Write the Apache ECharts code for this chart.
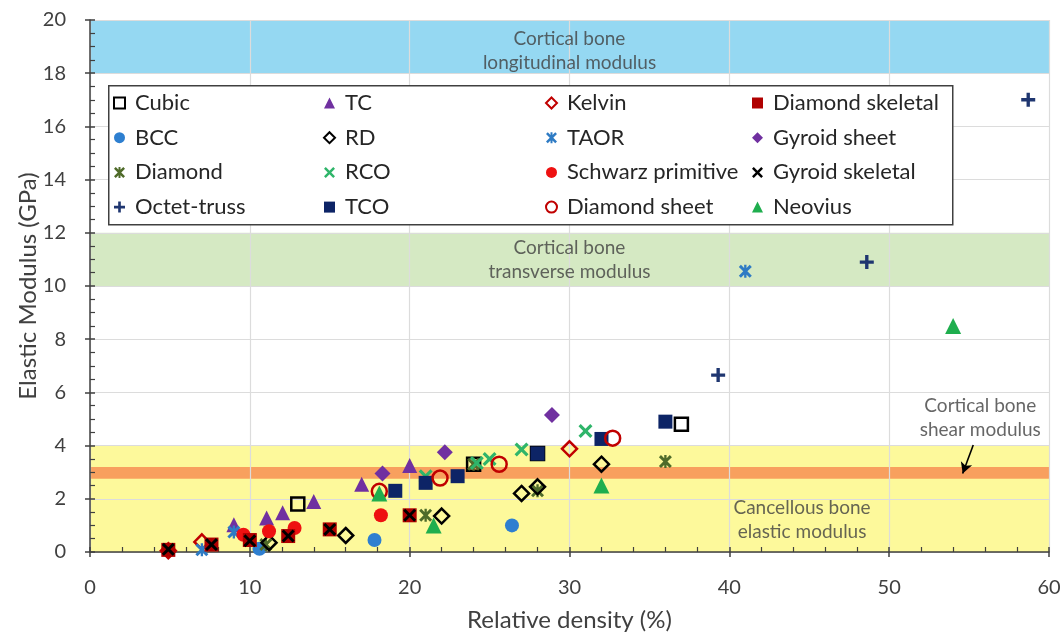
<!DOCTYPE html>
<html><head><meta charset="utf-8">
<script src="https://cdn.jsdelivr.net/npm/echarts@6/dist/echarts.min.js"></script>
<style>html,body{margin:0;padding:0;background:#fff}#c{width:1064px;height:634px}</style>
</head><body><div id="c"></div>
<script>
// ---- data (relative density %, elastic modulus GPa) ----
const cubic    = [[13,1.8],[24,3.3],[28,3.7],[37,4.8]];
const bcc      = [[10.6,0.12],[17.8,0.45],[26.4,1.0]];
const diamond  = [[11,0.28],[21,1.38],[24,3.3],[28,2.3],[36,3.4]];
const octet    = [[39.3,6.65],[48.6,10.9],[58.7,17.0]];
const tc       = [[9,1.02],[11.05,1.28],[12.05,1.48],[14,1.9],[17,2.55],[20,3.25]];
const rd       = [[11.2,0.35],[16,0.62],[22,1.35],[27,2.2],[28,2.45],[32,3.3]];
const rco      = [[21,2.85],[24.2,3.35],[25,3.5],[27,3.85],[31,4.55]];
const tco      = [[19.1,2.3],[21,2.6],[23,2.85],[28,3.7],[32,4.25],[36,4.9]];
const kelvin   = [[4.9,0.05],[7,0.38],[30,3.88]];
const taor     = [[7,0.08],[9,0.75],[41,10.55]];
const schwarz  = [[9.6,0.65],[11.2,0.78],[12.8,0.9],[18.2,1.38]];
const dsheet   = [[18.1,2.28],[21.9,2.78],[25.6,3.3],[32.7,4.28]];
const dskel    = [[4.9,0.08],[7.6,0.28],[10,0.45],[12.4,0.6],[15,0.85],[20,1.38]];
const gsheet   = [[18.3,2.95],[22.2,3.75],[28.9,5.15]];
const gskel    = [[4.9,0.1],[7.6,0.28],[10,0.42],[12.4,0.6],[15,0.85],[20,1.38]];
const neovius  = [[18.1,2.2],[21.5,1.0],[32,2.5],[54,8.5]];

// reference bands [yFrom, yTo]
const bandLongitudinal = [18, 20];
const bandTransverse   = [10, 12];
const bandCancellous   = [0, 4];
const bandShear        = [2.75, 3.2];

// annotation texts and anchor positions (data coords)
const annotations = [
  {x: 30,   y: 18.85, text: 'Cortical bone\nlongitudinal modulus'},
  {x: 30,   y: 11,    text: 'Cortical bone\ntransverse modulus'},
  {x: 44.55,y: 1.22,  text: 'Cancellous bone\nelastic modulus'},
  {x: 55.7, y: 5.06,  text: 'Cortical bone\nshear modulus'}
];
const arrowFrom = [55.26, 4.02];
const arrowTo   = [54.6, 2.95];

const xTicks = {min: 0, max: 60, interval: 10};
const yTicks = {min: 0, max: 20, interval: 2};

const legendCols = [
  ['Cubic','BCC','Diamond','Octet-truss'],
  ['TC','RD','RCO','TCO'],
  ['Kelvin','TAOR','Schwarz primitive','Diamond sheet'],
  ['Diamond skeletal','Gyroid sheet','Gyroid skeletal','Neovius']
];

// ---- styling ----
const FONT = 'Lato, "Open Sans", sans-serif';
const TXT = '#404040';
const PLUS = 'path://M3.8,0H6.2V3.8H10V6.2H6.2V10H3.8V6.2H0V3.8H3.8Z';
const XMARK = 'path://M0,1.6L1.6,0L5,3.4L8.4,0L10,1.6L6.6,5L10,8.4L8.4,10L5,6.6L1.6,10L0,8.4L3.4,5Z';
const ASTER = 'path://M0,1.6L1.6,0L5,3.4L8.4,0L10,1.6L6.6,5L10,8.4L8.4,10L5,6.6L1.6,10L0,8.4L3.4,5Z M4.1,0H5.9V10H4.1Z';

function filled(name, data, symbol, color, size){
  return {name, type:'scatter', data, symbol, symbolSize:size, z:5,
    itemStyle:{color, opacity:1}, emphasis:{disabled:true}};
}
function hollow(name, data, symbol, color, size){
  return {name, type:'scatter', data, symbol, symbolSize:size, z:5,
    itemStyle:{color:'rgba(0,0,0,0)', borderColor:color, borderWidth:2.5, opacity:1}, emphasis:{disabled:true}};
}

const series = [
  hollow('Cubic', cubic, 'rect', '#000000', 13),
  filled('BCC', bcc, 'circle', '#2e7fd0', 14),
  filled('Diamond', diamond, ASTER, '#4f6b2a', 13),
  filled('Octet-truss', octet, PLUS, '#1f3670', 14),
  filled('TC', tc, 'triangle', '#7030a0', 15),
  hollow('RD', rd, 'diamond', '#000000', 15),
  filled('RCO', rco, XMARK, '#2fb56a', 14),
  filled('TCO', tco, 'rect', '#0d2466', 14),
  hollow('Kelvin', kelvin, 'diamond', '#c00000', 15),
  filled('TAOR', taor, ASTER, '#2e7bc4', 13),
  filled('Schwarz primitive', schwarz, 'circle', '#ee1111', 14),
  hollow('Diamond sheet', dsheet, 'circle', '#c00000', 15),
  filled('Diamond skeletal', dskel, 'rect', '#b00000', 14),
  filled('Gyroid sheet', gsheet, 'diamond', '#7030a0', 16),
  filled('Gyroid skeletal', gskel, XMARK, '#000000', 13),
  filled('Neovius', neovius, 'triangle', '#1fae4e', 16)
];

// bands
series.push({
  name:'bands', type:'scatter', data:[], z:-1, silent:true,
  markArea:{silent:true, z:-1, label:{show:false},
    data:[
      [{yAxis:bandLongitudinal[0], itemStyle:{color:'#95d8f2'}}, {yAxis:bandLongitudinal[1]}],
      [{yAxis:bandTransverse[0], itemStyle:{color:'#d5e9c3'}}, {yAxis:bandTransverse[1]}],
      [{yAxis:bandCancellous[0], itemStyle:{color:'#fdf99b'}}, {yAxis:bandCancellous[1]}],
      [{yAxis:bandShear[0], itemStyle:{color:'#f8a05e'}}, {yAxis:bandShear[1]}]
    ]}
});
// annotations
series.push({
  name:'notes', type:'scatter', symbolSize:0, z:6, silent:true,
  data: annotations.map(a => ({value:[a.x,a.y], text:a.text})),
  label:{show:true, position:'inside', color:TXT, fontFamily:FONT, fontSize:19, lineHeight:24,
    align:'center', verticalAlign:'middle',
    formatter: p => p.data.text},
  markLine:{silent:true, symbol:['none','arrow'], symbolSize:[9,11], label:{show:false},
    lineStyle:{color:'#000', width:1.6, type:'solid'},
    data:[[{coord:arrowFrom},{coord:arrowTo}]]}
});

const legends = legendCols.map((col,i) => ({
  orient:'vertical', left:[108,318,540,747][i], top:87,
  itemWidth:11, itemHeight:11, itemGap:12.7, data:col, selectedMode:false,
  textStyle:{fontFamily:FONT, fontSize:22, color:'#262626', padding:[0,0,0,5]}
}));

const axisLabelStyle = {fontFamily:FONT, fontSize:20, color:TXT};

const option = {
  animation:false,
  backgroundColor:'#fff',
  grid:{left:90, right:15, top:20, bottom:82, containLabel:false, outerBoundsMode:'none'},
  legend: legends,
  graphic:[{type:'rect', left:108, top:85, z:3, silent:true,
    shape:{width:844, height:139}, style:{fill:'#fff', stroke:'#404040', lineWidth:1.5}}],
  xAxis:[
    {type:'value', position:'bottom', ...xTicks,
      name:'Relative density (%)', nameLocation:'middle', nameGap:56, nameMoveOverlap:false,
      nameTextStyle:{fontFamily:FONT, fontSize:24, color:TXT},
      axisLine:{show:true, onZero:false, lineStyle:{color:'#404040', width:1.5}},
      axisTick:{show:true, inside:false, length:5, lineStyle:{color:'#404040', width:1.5}},
      axisLabel:{...axisLabelStyle, margin:26},
      splitLine:{show:true, lineStyle:{color:'#dcdcdc', width:1.2}}},
    {type:'value', position:'bottom', ...xTicks,
      axisLine:{show:false}, axisLabel:{show:false}, splitLine:{show:false},
      axisTick:{show:true, inside:true, length:5, lineStyle:{color:'#404040', width:1.5}},
      minorTick:{show:true, splitNumber:5, length:5, lineStyle:{color:'#404040', width:1.2}}}
  ],
  yAxis:[
    {type:'value', position:'left', ...yTicks,
      name:'Elastic Modulus (GPa)', nameLocation:'middle', nameGap:50, nameMoveOverlap:false,
      nameTextStyle:{fontFamily:FONT, fontSize:24, color:TXT},
      axisLine:{show:true, onZero:false, lineStyle:{color:'#404040', width:1.5}},
      axisTick:{show:true, inside:false, length:5, lineStyle:{color:'#404040', width:1.5}},
      axisLabel:{...axisLabelStyle, margin:24},
      splitLine:{show:true, lineStyle:{color:'#dcdcdc', width:1.2}}},
    {type:'value', position:'left', ...yTicks,
      axisLine:{show:false}, axisLabel:{show:false}, splitLine:{show:false},
      axisTick:{show:true, inside:true, length:5, lineStyle:{color:'#404040', width:1.5}},
      minorTick:{show:true, splitNumber:4, length:5, lineStyle:{color:'#404040', width:1.2}}}
  ],
  series
};
const chart = echarts.init(document.getElementById('c'), null, {renderer:'canvas'});
chart.setOption(option);
</script>
</body></html>
